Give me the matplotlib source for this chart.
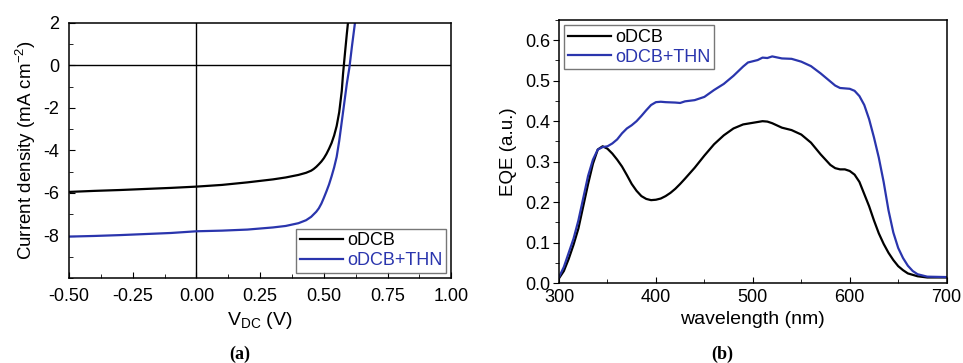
import numpy as np
import matplotlib
matplotlib.use("Agg")
from matplotlib import pyplot as plt
from matplotlib.ticker import MultipleLocator, FormatStrFormatter

plt.rcParams['font.family'] = ['Liberation Sans', 'DejaVu Sans']
plt.rcParams['mathtext.fontset'] = 'custom'
plt.rcParams['mathtext.rm'] = 'Liberation Sans'
plt.rcParams['axes.unicode_minus'] = False

blue = '#2a35ad'

# (a) J-V curves
v_odcb = [-0.5, -0.4, -0.3, -0.2, -0.1, 0.0, 0.1, 0.2, 0.3, 0.35, 0.4, 0.43,
          0.45, 0.46, 0.47, 0.48, 0.49, 0.50, 0.51, 0.52, 0.53, 0.54, 0.55,
          0.56, 0.57, 0.575, 0.582, 0.59, 0.597]
j_odcb = [-5.95, -5.9, -5.86, -5.81, -5.76, -5.7, -5.62, -5.5, -5.36, -5.27,
          -5.15, -5.05, -4.95, -4.87, -4.77, -4.65, -4.52, -4.36, -4.16,
          -3.92, -3.65, -3.3, -2.85, -2.2, -1.2, -0.4, 0.5, 1.5, 2.3]

v_thn = [-0.5, -0.4, -0.3, -0.2, -0.1, 0.0, 0.1, 0.2, 0.3, 0.35, 0.4, 0.43,
         0.45, 0.47, 0.48, 0.49, 0.50, 0.51, 0.52, 0.53, 0.54, 0.55, 0.56,
         0.57, 0.58, 0.59, 0.60, 0.61, 0.625]
j_thn = [-8.05, -8.02, -7.98, -7.93, -7.88, -7.8, -7.77, -7.72, -7.62, -7.55,
         -7.42, -7.28, -7.12, -6.88, -6.72, -6.5, -6.22, -5.92, -5.6, -5.22,
         -4.8, -4.3, -3.55, -2.65, -1.75, -0.85, -0.1, 0.9, 2.3]

# (b) EQE spectra
wl_odcb = [300, 305, 310, 315, 320, 325, 330, 335, 340, 345, 350, 355, 360,
           365, 370, 375, 380, 385, 390, 395, 400, 405, 410, 415, 420, 425,
           430, 440, 450, 460, 470, 480, 490, 500, 510, 515, 520, 530, 540,
           550, 560, 570, 580, 585, 590, 595, 600, 605, 610, 615, 620, 625,
           630, 635, 640, 645, 650, 655, 660, 670, 680, 700]
eqe_odcb = [0.012, 0.03, 0.06, 0.095, 0.135, 0.19, 0.245, 0.295, 0.33, 0.338,
            0.332, 0.32, 0.305, 0.288, 0.267, 0.245, 0.228, 0.215, 0.208,
            0.205, 0.206, 0.209, 0.215, 0.223, 0.233, 0.245, 0.258, 0.285,
            0.315, 0.343, 0.365, 0.382, 0.392, 0.396, 0.40, 0.399, 0.395,
            0.384, 0.378, 0.367, 0.347, 0.318, 0.292, 0.284, 0.281, 0.281,
            0.277, 0.268, 0.25, 0.22, 0.19, 0.155, 0.123, 0.097, 0.075,
            0.057, 0.042, 0.032, 0.024, 0.017, 0.014, 0.014]

wl_thn = [300, 305, 310, 315, 320, 325, 330, 335, 340, 345, 350, 355, 360,
          365, 370, 375, 380, 385, 390, 395, 400, 405, 410, 420, 425, 430,
          440, 445, 450, 460, 470, 480, 490, 495, 500, 505, 510, 515, 520,
          530, 540, 550, 560, 570, 580, 585, 590, 600, 605, 610, 615, 620,
          625, 630, 635, 640, 645, 650, 655, 660, 665, 670, 680, 700]
eqe_thn = [0.015, 0.04, 0.075, 0.11, 0.155, 0.21, 0.265, 0.305, 0.33, 0.336,
           0.338, 0.345, 0.355, 0.37, 0.382, 0.39, 0.40, 0.413, 0.427, 0.44,
           0.447, 0.448, 0.447, 0.446, 0.445, 0.449, 0.452, 0.456, 0.46,
           0.477, 0.492, 0.512, 0.535, 0.545, 0.548, 0.551, 0.557, 0.556,
           0.56, 0.555, 0.554, 0.547, 0.536, 0.518, 0.498, 0.488, 0.482,
           0.48, 0.475, 0.462, 0.44, 0.405, 0.36, 0.31, 0.25, 0.18, 0.125,
           0.087, 0.062, 0.043, 0.03, 0.022, 0.016, 0.015]

fig = plt.figure(figsize=(9.63, 3.63), dpi=100)
ax1 = fig.add_axes([0.0717, 0.234, 0.397, 0.703])
ax2 = fig.add_axes([0.5805, 0.220, 0.4025, 0.725])

ax1.axhline(0, color='black', lw=1)
ax1.axvline(0, color='black', lw=1)
ax1.plot(v_odcb, j_odcb, color='black', lw=1.6, label='oDCB')
ax1.plot(v_thn, j_thn, color=blue, lw=1.6, label='oDCB+THN')
ax1.set_xlim(-0.5, 1.0)
ax1.set_ylim(-10, 2)
ax1.xaxis.set_major_locator(MultipleLocator(0.25))
ax1.xaxis.set_minor_locator(MultipleLocator(0.125))
ax1.set_yticks([-8, -6, -4, -2, 0, 2])
ax1.yaxis.set_minor_locator(MultipleLocator(1))
ax1.xaxis.set_major_formatter(FormatStrFormatter('%.2f'))
ax1.set_xlabel(r'V$_{\mathregular{DC}}$ (V)', fontsize=14, labelpad=4)
ax1.set_ylabel(r'Current density (mA cm$^{\mathregular{-2}}$)', fontsize=13.5,
               labelpad=4)
ax1.tick_params(which='both', direction='in', labelsize=13, pad=7)

ax2.plot(wl_odcb, eqe_odcb, color='black', lw=1.6, label='oDCB')
ax2.plot(wl_thn, eqe_thn, color=blue, lw=1.6, label='oDCB+THN')
ax2.set_xlim(300, 700)
ax2.set_ylim(0, 0.65)
ax2.xaxis.set_major_locator(MultipleLocator(100))
ax2.xaxis.set_minor_locator(MultipleLocator(50))
ax2.yaxis.set_major_locator(MultipleLocator(0.1))
ax2.yaxis.set_minor_locator(MultipleLocator(0.05))
ax2.yaxis.set_major_formatter(FormatStrFormatter('%.1f'))
ax2.set_xlabel('wavelength (nm)', fontsize=14, labelpad=4)
ax2.set_ylabel('EQE (a.u.)', fontsize=13.5, labelpad=6)
ax2.tick_params(axis='x', which='both', direction='in', labelsize=13, pad=4)
ax2.tick_params(axis='y', which='both', direction='out', labelsize=13, pad=2)

for ax in (ax1, ax2):
    ax.tick_params(which='major', length=4)
    ax.tick_params(which='minor', length=3)
    for s in ax.spines.values():
        s.set_linewidth(1.1)

leg1 = ax1.legend(loc='lower right', fontsize=13, fancybox=False,
                  edgecolor='#555555', handlelength=2.4, handletextpad=0.2,
                  borderpad=0.2, labelspacing=0.15, borderaxespad=0.3)
leg2 = ax2.legend(loc='upper left', fontsize=13, fancybox=False,
                  edgecolor='#555555', handlelength=2.4, handletextpad=0.2,
                  borderpad=0.2, labelspacing=0.15, borderaxespad=0.3)
for leg in (leg1, leg2):
    leg.get_frame().set_linewidth(1.0)
    leg.get_texts()[1].set_color(blue)

fig.text(0.249, 0.01, '(a)', fontsize=13, fontweight='bold',
         family='Liberation Serif', ha='center')
fig.text(0.750, 0.01, '(b)', fontsize=13, fontweight='bold',
         family='Liberation Serif', ha='center')

fig.savefig('out.png', dpi=100)
